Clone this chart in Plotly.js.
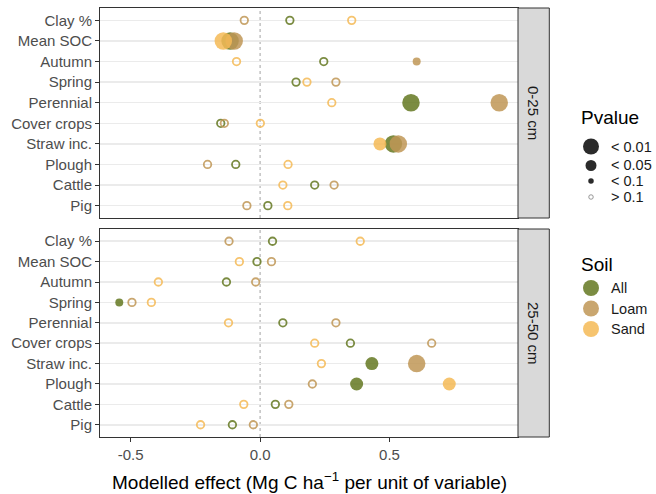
<!DOCTYPE html>
<html>
<head>
<meta charset="utf-8">
<script src="https://cdn.plot.ly/plotly-3.0.1.min.js"></script>
<style>html,body{margin:0;padding:0;background:#fff;}</style>
</head>
<body>
<div id="chart" style="width:656px;height:494px;"></div>
<script>
// ---- data ----
const categories = ["Clay %","Mean SOC","Autumn","Spring","Perennial","Cover crops","Straw inc.","Plough","Cattle","Pig"];
const soils = ["All","Loam","Sand"];
const depths = ["0-25 cm","25-50 cm"];

// 0-25 cm
const top_All   = [0.115, -0.116, 0.246, 0.139, 0.583, -0.152, 0.515, -0.094, 0.211, 0.030];
const top_All_p = [">0.1","<0.01",">0.1",">0.1","<0.01",">0.1","<0.01",">0.1",">0.1",">0.1"];
const top_Loam   = [-0.061, -0.100, 0.605, 0.293, 0.924, -0.138, 0.534, -0.203, 0.286, -0.051];
const top_Loam_p = [">0.1","<0.01","<0.1",">0.1","<0.01",">0.1","<0.01",">0.1",">0.1",">0.1"];
const top_Sand   = [0.354, -0.142, -0.091, 0.181, 0.277, 0.001, 0.463, 0.108, 0.088, 0.107];
const top_Sand_p = [">0.1","<0.01",">0.1",">0.1",">0.1",">0.1","<0.05",">0.1",">0.1",">0.1"];

// 25-50 cm
const bot_All   = [0.048, -0.012, -0.130, -0.544, 0.088, 0.349, 0.432, 0.373, 0.059, -0.107];
const bot_All_p = [">0.1",">0.1",">0.1","<0.1",">0.1",">0.1","<0.05","<0.05",">0.1",">0.1"];
const bot_Loam   = [-0.120, 0.044, -0.017, -0.495, 0.293, 0.663, 0.605, 0.202, 0.111, -0.026];
const bot_Loam_p = [">0.1",">0.1",">0.1",">0.1",">0.1",">0.1","<0.01",">0.1",">0.1",">0.1"];
const bot_Sand   = [0.387, -0.080, -0.393, -0.420, -0.122, 0.211, 0.237, 0.731, -0.063, -0.230];
const bot_Sand_p = [">0.1",">0.1",">0.1",">0.1",">0.1",">0.1",">0.1","<0.05",">0.1",">0.1"];

const pLevels = ["< 0.01","< 0.05","< 0.1","> 0.1"];
const xTicks = [-0.5, 0, 0.5];
const xTickText = ["-0.5","0.0","0.5"];

// ---- styles ----
const soilColor = {All:"rgb(100,120,33)", Loam:"rgb(191,150,86)", Sand:"rgb(244,186,86)"};
const pSize = {"<0.01":17.5, "<0.05":13, "<0.1":8, ">0.1":7.5};
const FONT = "Liberation Sans, Arial, Helvetica, sans-serif";

function mk(xs, ps, soil, xa, ya){
  return {
    type:"scatter", mode:"markers", x:xs, y:categories, xaxis:xa, yaxis:ya,
    showlegend:false, hoverinfo:"skip",
    marker:{
      color:soilColor[soil], opacity:0.85,
      size:ps.map(p=>pSize[p]),
      symbol:ps.map(p=>p===">0.1"?"circle-open":"circle"),
      line:{color:soilColor[soil], width:ps.map(p=>p===">0.1"?1.8:0)}
    }
  };
}

const traces = [
  mk(top_All, top_All_p, "All", "x2", "y2"),
  mk(top_Loam, top_Loam_p, "Loam", "x2", "y2"),
  mk(top_Sand, top_Sand_p, "Sand", "x2", "y2"),
  mk(bot_All, bot_All_p, "All", "x", "y"),
  mk(bot_Loam, bot_Loam_p, "Loam", "x", "y"),
  mk(bot_Sand, bot_Sand_p, "Sand", "x", "y")
];

// ---- geometry helpers (pixel -> paper) ----
const W=656, H=494, ML=100, MR=138, MT=8, MB=57;
const PW=W-ML-MR, PH=H-MT-MB;
const px=(x)=>(x-ML)/PW;
const py=(y)=>(H-MB-y)/PH;

const topDom=[py(218),1], botDom=[0,py(229)];

const yax = (dom, anchor)=>({
  domain:dom, anchor:anchor, type:"category", categoryarray:categories,
  range:[9.6,-0.6], autorange:false,
  showgrid:true, gridcolor:"#ebebeb", gridwidth:1.5,
  ticks:"outside", ticklen:4, tickwidth:1, tickcolor:"#333333",
  showline:true, mirror:true, linecolor:"#333333", linewidth:1,
  zeroline:false, tickfont:{family:FONT, size:15, color:"#4d4d4d"}
});

const xr=[-0.6185, 0.9965];

const shapes = [];
const annotations = [];
// zero lines
shapes.push({type:"line", xref:"x", yref:"y domain", x0:0, x1:0, y0:0, y1:1, layer:"below",
  line:{color:"#8c8c8c", width:0.8, dash:"dot"}});
shapes.push({type:"line", xref:"x2", yref:"y2 domain", x0:0, x1:0, y0:0, y1:1, layer:"below",
  line:{color:"#8c8c8c", width:0.8, dash:"dot"}});
// strips
[[topDom,depths[0]],[botDom,depths[1]]].forEach(([d,t])=>{
  shapes.push({type:"rect", xref:"paper", yref:"paper", x0:1, x1:px(549.3), y0:d[0], y1:d[1],
    fillcolor:"#d9d9d9", line:{color:"#333333", width:1}});
  annotations.push({xref:"paper", yref:"paper", x:px(534), y:(d[0]+d[1])/2, xanchor:"center", yanchor:"middle",
    text:t, showarrow:false, textangle:90, borderpad:0,
    font:{family:FONT, size:15, color:"#1a1a1a"}});
});
// x axis title
annotations.push({xref:"paper", yref:"paper", x:0.5, y:py(481), xanchor:"center", yanchor:"middle",
  showarrow:false, text:"Modelled effect (Mg C ha<sup>\u22121</sup> per unit of variable)",
  font:{family:FONT, size:19, color:"#000000"}});

// legend: Pvalue
annotations.push({xref:"paper", yref:"paper", x:px(580), y:py(117.5), xanchor:"left", yanchor:"middle",
  showarrow:false, borderpad:0, text:"Pvalue", font:{family:FONT, size:19, color:"#000000"}});
const pKeyY=[146.5,165.5,181,197], pKeyD=[16,11,5.5,4.5];
pLevels.forEach((lab,i)=>{
  const r=pKeyD[i]/2, open=(i===3);
  shapes.push({type:"circle", xref:"paper", yref:"paper", xsizemode:"pixel", ysizemode:"pixel",
    xanchor:px(591), yanchor:py(pKeyY[i]), x0:-r, x1:r, y0:-r, y1:r,
    fillcolor:open?"rgba(0,0,0,0)":"#2b2b2b", line:{color:open?"#7f7f7f":"#2b2b2b", width:open?0.8:0}});
  annotations.push({xref:"paper", yref:"paper", x:px(610), y:py(pKeyY[i]), xanchor:"left", yanchor:"middle",
    showarrow:false, borderpad:0, text:lab, font:{family:FONT, size:14.5, color:"#1a1a1a"}});
});
// legend: Soil
annotations.push({xref:"paper", yref:"paper", x:px(580), y:py(264), xanchor:"left", yanchor:"middle",
  showarrow:false, borderpad:0, text:"Soil", font:{family:FONT, size:19, color:"#000000"}});
const sKeyY=[288,308.5,329];
soils.forEach((s,i)=>{
  const r=8;
  shapes.push({type:"circle", xref:"paper", yref:"paper", xsizemode:"pixel", ysizemode:"pixel",
    xanchor:px(591), yanchor:py(sKeyY[i]), x0:-r, x1:r, y0:-r, y1:r, opacity:0.85,
    fillcolor:soilColor[s], line:{width:0}});
  annotations.push({xref:"paper", yref:"paper", x:px(610), y:py(sKeyY[i]), xanchor:"left", yanchor:"middle",
    showarrow:false, borderpad:0, text:s, font:{family:FONT, size:14.5, color:"#1a1a1a"}});
});

const layout = {
  width:W, height:H, margin:{l:ML, r:MR, t:MT, b:MB, pad:0},
  paper_bgcolor:"#ffffff", plot_bgcolor:"#ffffff",
  font:{family:FONT},
  showlegend:false,
  xaxis:{domain:[0,1], anchor:"y", range:xr, autorange:false,
    tickvals:xTicks, ticktext:xTickText, ticks:"outside", ticklen:4, tickwidth:1, tickcolor:"#333333",
    showgrid:false, zeroline:false, showline:true, mirror:true, linecolor:"#333333", linewidth:1,
    tickfont:{family:FONT, size:15, color:"#4d4d4d"}},
  xaxis2:{domain:[0,1], anchor:"y2", matches:"x", range:xr, autorange:false,
    showticklabels:false, ticks:"", showgrid:false, zeroline:false,
    showline:true, mirror:true, linecolor:"#333333", linewidth:1},
  yaxis:yax(botDom,"x"),
  yaxis2:yax(topDom,"x2"),
  shapes:shapes, annotations:annotations
};

Plotly.newPlot("chart", traces, layout, {staticPlot:true, displayModeBar:false});
</script>
</body>
</html>
